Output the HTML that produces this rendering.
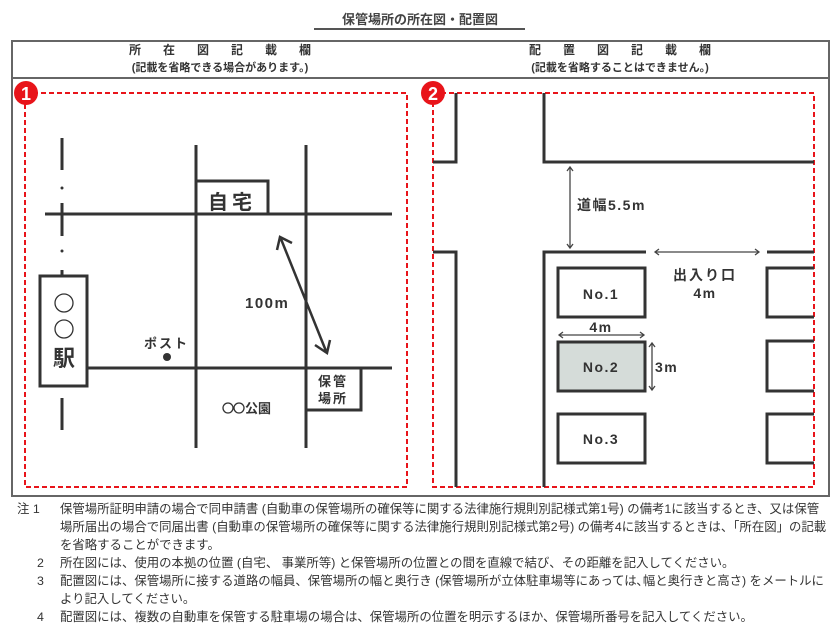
<!DOCTYPE html>
<html><head><meta charset="utf-8">
<style>
body{margin:0;width:840px;height:637px;background:#fff;position:relative;overflow:hidden;font-family:"Liberation Sans","Noto Sans CJK JP",sans-serif;color:#333}
.t{position:absolute;white-space:nowrap}
.n{font-size:12.4px;line-height:18px;left:60px}
</style></head><body>
<div class="t" style="left:0;width:840px;text-align:center;top:9px;font-size:13px;font-weight:bold;color:#444">保管場所の所在図・配置図</div>
<div style="position:absolute;left:314px;top:28px;width:211px;height:2px;background:#555"></div>
<div style="position:absolute;left:11px;top:40px;width:815px;height:453px;border:2px solid #666"></div>
<div style="position:absolute;left:11px;top:77px;width:819px;height:2px;background:#666"></div>
<div class="t" style="left:0;width:440px;text-align:center;top:41px;font-size:12px;font-weight:bold;letter-spacing:22px;text-indent:22px">所在図記載欄</div>
<div class="t" style="left:0;width:440px;text-align:center;top:59px;font-size:11px;font-weight:bold">(記載を省略できる場合があります。)</div>
<div class="t" style="left:400px;width:440px;text-align:center;top:41px;font-size:12px;font-weight:bold;letter-spacing:22px;text-indent:22px">配置図記載欄</div>
<div class="t" style="left:400px;width:440px;text-align:center;top:59px;font-size:11px;font-weight:bold">(記載を省略することはできません。)</div>

<svg width="840" height="637" style="position:absolute;left:0;top:0" xmlns="http://www.w3.org/2000/svg">
<g fill="none" stroke="#e8141a" stroke-width="2" stroke-dasharray="5,3">
<rect x="25" y="93" width="382" height="394"/>
<rect x="433" y="93" width="381" height="394"/>
</g>
<circle cx="26" cy="93" r="12" fill="#e8141a"/>
<text x="26" y="100" font-size="18" font-weight="bold" fill="#fff" text-anchor="middle" font-family="Liberation Sans,sans-serif">1</text>
<circle cx="433" cy="93" r="12" fill="#e8141a"/>
<text x="433" y="100" font-size="18" font-weight="bold" fill="#fff" text-anchor="middle" font-family="Liberation Sans,sans-serif">2</text>

<g stroke="#333" stroke-width="3" fill="none">
<line x1="45" y1="214" x2="392" y2="214"/>
<line x1="88" y1="368" x2="392" y2="368"/>
<line x1="196" y1="145" x2="196" y2="448"/>
<line x1="306" y1="145" x2="306" y2="448"/>
<line x1="62" y1="138" x2="62" y2="170"/>
<line x1="62" y1="203" x2="62" y2="236"/>
<line x1="62" y1="270" x2="62" y2="276"/>
<line x1="62" y1="398" x2="62" y2="430"/>
<rect x="40" y="276" width="47" height="110"/>
<polyline points="196,181 268,181 268,214"/>
<polyline points="306,410 361,410 361,368"/>
<line x1="281" y1="239" x2="326" y2="351" stroke-width="2.5"/>
<polyline points="277,250 280,237 292,243" stroke-width="2.5"/>
<polyline points="315,345 327,353 330,340" stroke-width="2.5"/>
</g>
<g stroke="#333" stroke-width="1.3" fill="none">
<circle cx="64" cy="303" r="9"/>
<circle cx="64" cy="329" r="9"/>
<circle cx="228" cy="408" r="5"/>
<circle cx="239" cy="408" r="5"/>
</g>
<circle cx="62" cy="188" r="1.5" fill="#333"/>
<circle cx="62" cy="251" r="1.5" fill="#333"/>
<circle cx="167" cy="357" r="4" fill="#333"/>
<g font-family="Liberation Sans,Noto Sans CJK JP,sans-serif" fill="#333">
<text x="208" y="209" font-size="20" font-weight="bold" letter-spacing="4">自宅</text>
<text x="64" y="366" font-size="22" font-weight="bold" text-anchor="middle">駅</text>
<text x="245" y="308" font-size="15" font-weight="bold" letter-spacing="1.5">100m</text>
<text x="144" y="348" font-size="13" font-weight="bold" letter-spacing="2">ポスト</text>
<text x="318" y="386" font-size="13" font-weight="bold" letter-spacing="2">保管</text>
<text x="318" y="403" font-size="13" font-weight="bold" letter-spacing="2">場所</text>
<text x="245" y="413" font-size="13" font-weight="bold">公園</text>
</g>

<g stroke="#333" stroke-width="3" fill="none">
<polyline points="456,93 456,162 433,162"/>
<polyline points="544,93 544,162 814,162"/>
<polyline points="433,252 456,252 456,487"/>
<polyline points="646,252 544,252 544,487"/>
<line x1="767" y1="252" x2="814" y2="252"/>
<rect x="558" y="268" width="87" height="49"/>
<rect x="558" y="342" width="87" height="49" fill="#d5dcd9"/>
<rect x="558" y="414" width="87" height="49"/>
<polyline points="814,268 767,268 767,317 814,317"/>
<polyline points="814,341 767,341 767,391 814,391"/>
<polyline points="814,414 767,414 767,463 814,463"/>
</g>
<g stroke="#444" stroke-width="1.3" fill="none">
<line x1="570" y1="167" x2="570" y2="248"/>
<polyline points="567,171 570,167 573,171"/><polyline points="567,244 570,248 573,244"/>
<line x1="655" y1="252" x2="759" y2="252"/>
<polyline points="659,249 655,252 659,255"/><polyline points="755,249 759,252 755,255"/>
<line x1="559" y1="335" x2="644" y2="335"/>
<polyline points="563,332 559,335 563,338"/><polyline points="640,332 644,335 640,338"/>
<line x1="652" y1="343" x2="652" y2="390"/>
<polyline points="649,347 652,343 655,347"/><polyline points="649,386 652,390 655,386"/>
</g>
<g font-family="Liberation Sans,Noto Sans CJK JP,sans-serif" fill="#333" font-weight="bold">
<text x="577" y="210" font-size="14" letter-spacing="1.5">道幅5.5m</text>
<text x="705" y="280" font-size="14" text-anchor="middle" letter-spacing="2">出入り口</text>
<text x="705" y="298" font-size="14" text-anchor="middle" letter-spacing="1.5">4m</text>
<text x="601" y="299" font-size="14" text-anchor="middle" letter-spacing="1.5">No.1</text>
<text x="601" y="372" font-size="14" text-anchor="middle" letter-spacing="1.5">No.2</text>
<text x="601" y="444" font-size="14" text-anchor="middle" letter-spacing="1.5">No.3</text>
<text x="601" y="332" font-size="14" text-anchor="middle" letter-spacing="1.5">4m</text>
<text x="655" y="372" font-size="14" letter-spacing="1.5">3m</text>
</g>
</svg>

<div class="t" style="left:17px;top:500px;font-size:12.4px;line-height:18px">注 1</div>
<div class="t n" style="top:500px">保管場所証明申請の場合で同申請書 (自動車の保管場所の確保等に関する法律施行規則別記様式第1号) の備考1に該当するとき、又は保管</div>
<div class="t n" style="top:518px">場所届出の場合で同届出書 (自動車の保管場所の確保等に関する法律施行規則別記様式第2号) の備考4に該当するときは、「所在図」の記載</div>
<div class="t n" style="top:536px">を省略することができます。</div>
<div class="t" style="left:37px;top:554px;font-size:12.4px;line-height:18px">2</div>
<div class="t n" style="top:554px">所在図には、使用の本拠の位置 (自宅、 事業所等) と保管場所の位置との間を直線で結び、その距離を記入してください。</div>
<div class="t" style="left:37px;top:572px;font-size:12.4px;line-height:18px">3</div>
<div class="t n" style="top:572px">配置図には、保管場所に接する道路の幅員、保管場所の幅と奥行き (保管場所が立体駐車場等にあっては､幅と奥行きと高さ) をメートルに</div>
<div class="t n" style="top:590px">より記入してください。</div>
<div class="t" style="left:37px;top:608px;font-size:12.4px;line-height:18px">4</div>
<div class="t n" style="top:608px">配置図には、複数の自動車を保管する駐車場の場合は、保管場所の位置を明示するほか、保管場所番号を記入してください。</div>
</body></html>
